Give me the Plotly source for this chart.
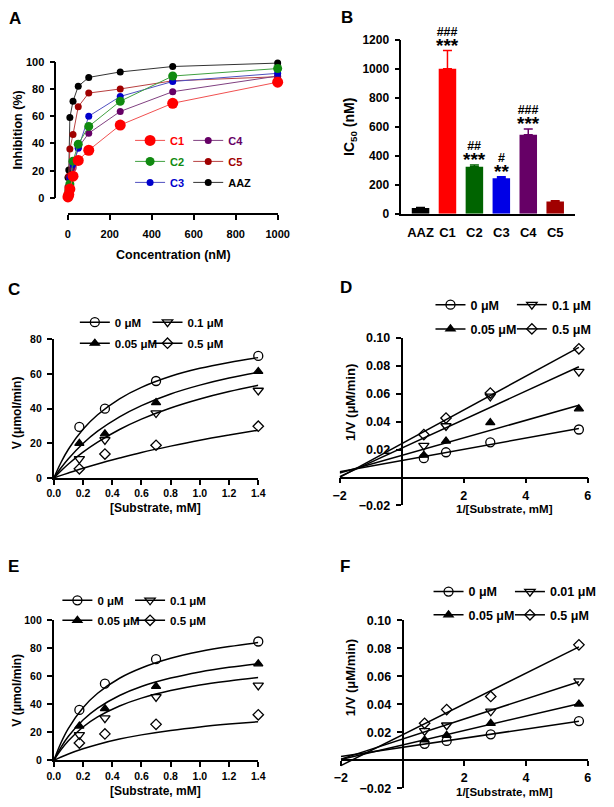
import numpy as np
import plotly.graph_objects as go

W, H = 614, 807
FONT = "Liberation Sans"

# ---------------- Panel A data ----------------
conc_nM = [1, 5, 10, 25, 50, 100, 250, 500, 1000]
inhib_C1 = [0.7, 2.5, 6.5, 16, 27.5, 35, 53.5, 69.5, 85]
inhib_C2 = [2, 5, 10.3, 27, 39.5, 52.5, 71, 89.5, 95]
inhib_C3 = [3, 8, 15, 24.5, 36.5, 60, 74.5, 85.5, 91.5]
inhib_C4 = [2, 7, 14, 22, 37, 47.5, 63.5, 78, 89.5]
inhib_C5 = [8, 16, 36, 46.5, 67, 77, 80, 86, 89]
inhib_AAZ = [15, 20.5, 59, 71, 82, 88.5, 92.5, 96.5, 99]

# ---------------- Panel B data ----------------
compounds = ["AAZ", "C1", "C2", "C3", "C4", "C5"]
ic50 = [40, 1000, 325, 245, 545, 85]
ic50_err = [4, 125, 12, 10, 40, 5]
sig_stars = ["", "***", "***", "**", "***", ""]
sig_hash = ["", "###", "##", "#", "###", ""]

# ---------------- Panels C-F data ----------------
substrate_mM = [0.175, 0.35, 0.7, 1.4]
inv_substrate = [0.714, 1.429, 2.857, 5.714]
fit_S = [0, 0.05, 0.1, 0.2, 0.3, 0.45, 0.6, 0.8, 1.0, 1.2, 1.4]

names_CDE = ["0 μM", "0.05 μM", "0.1 μM", "0.5 μM"]
names_F = ["0 μM", "0.05 μM", "0.01 μM", "0.5 μM"]

vC = [[29.5, 40, 56, 70.5],
      [20, 25.5, 43.5, 61.5],
      [11, 22, 37.5, 50.5],
      [5.3, 13.8, 18.9, 29.9]]
fitC = [[0, 9.1, 16.6, 28.1, 36.5, 45.7, 52.3, 58.7, 63.3, 66.7, 69.5],
        [0, 5.9, 11.1, 19.9, 27.0, 35.3, 41.8, 48.5, 53.6, 57.7, 61.0],
        [0, 4.2, 8.1, 14.9, 20.7, 28.0, 34.0, 40.4, 45.6, 49.9, 53.5],
        [0, 1.5, 2.9, 5.6, 8.1, 11.5, 14.7, 18.4, 21.8, 24.8, 27.6]]

invD = [[0.0139, 0.0181, 0.0252, 0.0344],
        [0.016, 0.0261, 0.0393, 0.0492],
        [0.0228, 0.0369, 0.0581, 0.0758],
        [0.0308, 0.0426, 0.0605, 0.0922]]

vE = [[36, 54.7, 72.2, 84.8],
      [24.5, 36.9, 52.8, 68.9],
      [18.2, 30.1, 45.3, 53.5],
      [12.4, 18.9, 25.7, 32.5]]
fitE = [[0, 12.8, 22.9, 37.6, 47.9, 58.6, 65.9, 72.8, 77.6, 81.2, 84.0],
        [0, 9.5, 17.2, 28.8, 37.3, 46.3, 52.7, 58.7, 63.1, 66.4, 69.0],
        [0, 7.7, 14.0, 23.8, 31.0, 38.8, 44.4, 49.8, 53.8, 56.7, 59.1],
        [0, 2.4, 4.6, 8.3, 11.4, 15.2, 18.2, 21.4, 23.9, 25.9, 27.6]]

invF = [[0.0117, 0.0138, 0.0185, 0.028],
        [0.0145, 0.0178, 0.0264, 0.0402],
        [0.021, 0.025, 0.035, 0.0565],
        [0.0264, 0.0362, 0.0456, 0.0825]]

# ---------------- helpers ----------------
def px_x(p):
    return p / W


def px_y(p):
    return 1 - p / H


def axis(dom, rng, size=11, **kw):
    d = dict(domain=dom, range=rng, showline=True, linecolor="black", linewidth=1.8,
             ticks="outside", ticklen=5, tickwidth=1.8, tickcolor="black",
             showgrid=False, zeroline=False, fixedrange=True,
             tickfont=dict(family=FONT, size=size, color="black", weight="bold"))
    d.update(kw)
    return d


def zero_pos(dom, rng):
    return dom[0] + (0 - rng[0]) / (rng[1] - rng[0]) * (dom[1] - dom[0])


fig = go.Figure()
annotations = []

# ---------------- Panel A ----------------
a_style = {
    "C1": ("#ff0000", "#f05050", 11, "legend"),
    "C2": ("#108a10", "#40a040", 9, "legend"),
    "C3": ("#0000cc", "#5050c0", 7, "legend"),
    "C4": ("#660066", "#804080", 7, "legend2"),
    "C5": ("#a00000", "#b84040", 7, "legend2"),
    "AAZ": ("#000000", "#333333", 7, "legend2"),
}
a_values = {"C1": inhib_C1, "C2": inhib_C2, "C3": inhib_C3,
            "C4": inhib_C4, "C5": inhib_C5, "AAZ": inhib_AAZ}
# drawing order (C1 on top)
for name in ["AAZ", "C5", "C4", "C3", "C2", "C1"]:
    col, lcol, ms, _ = a_style[name]
    fig.add_trace(go.Scatter(
        x=conc_nM, y=a_values[name], mode="lines+markers", xaxis="x", yaxis="y",
        line=dict(color=lcol, width=1), marker=dict(color=col, size=ms),
        cliponaxis=False, showlegend=False))
# legend entries
for name in ["C1", "C2", "C3", "C4", "C5", "AAZ"]:
    col, lcol, ms, leg = a_style[name]
    fig.add_trace(go.Scatter(
        x=[None], y=[None], mode="lines+markers", xaxis="x", yaxis="y",
        line=dict(color=lcol, width=1), marker=dict(color=col, size=ms),
        name=f"<span style='color:{col}'>{name}</span>",
        legend=leg, legendgroup=f"A_{name}"))

layout_axes = {}
layout_axes["xaxis"] = axis([px_x(62.7), px_x(279.3)], [0, 1000], 11, anchor="free",
                            position=px_y(211), tickvals=[0, 200, 400, 600, 800, 1000],
                            ticklabelstandoff=5)
layout_axes["yaxis"] = axis([px_y(194.3), px_y(55.7)], [0, 100], 11, anchor="free",
                            position=px_x(50), tickvals=[0, 20, 40, 60, 80, 100],
                            ticklabelstandoff=3)

# ---------------- Panel B ----------------
bar_colors = ["#000000", "#ff0000", "#006400", "#0000e6", "#660066", "#a00000"]
for i, c in enumerate(compounds):
    fig.add_trace(go.Bar(
        x=[c], y=[ic50[i]], xaxis="x2", yaxis="y2", width=0.65,
        marker=dict(color=bar_colors[i], line=dict(width=0)),
        error_y=dict(type="data", array=[ic50_err[i]], arrayminus=[0], symmetric=False,
                     color=bar_colors[i], thickness=1.5, width=4.5),
        showlegend=False))
    if sig_stars[i]:
        label = (f"{sig_hash[i]}<br><span style='font-size:19px'>{sig_stars[i]}</span>"
                 if sig_hash[i] else f"<span style='font-size:19px'>{sig_stars[i]}</span>")
        annotations.append(dict(x=c, y=ic50[i] + ic50_err[i], xref="x2", yref="y2",
                                text=label, showarrow=False, yanchor="bottom",
                                yshift=-6, borderpad=0,
                                font=dict(family=FONT, size=12.5, color="black", weight="bold")))

layout_axes["xaxis2"] = axis([px_x(407), px_x(586)], [-0.71, 5.73], 13, anchor="y2",
                             type="category", categoryorder="array", categoryarray=compounds,
                             ticks="", ticklabelstandoff=6)
layout_axes["yaxis2"] = axis([px_y(210.5), px_y(33.3)], [0, 1200], 12, anchor="x2",
                             tickvals=[0, 200, 400, 600, 800, 1000, 1200], ticklabelstandoff=3)

# ---------------- Panels C-F ----------------
symbols = [("circle-open", 9), ("triangle-up", 8), ("triangle-down-open", 9), ("diamond-open", 8)]


def kinetic(ax, xs, data, names, legs, fit_x=None, fits=None, linear=False, xmin=None):
    xa, ya = f"x{ax}", f"y{ax}"
    for i, ys in enumerate(data):
        if linear:
            coef = np.polyfit(xs, ys, 1)
            lx = [xmin, max(xs)]
            ly = list(np.polyval(coef, lx))
            fig.add_trace(go.Scatter(x=lx, y=ly, mode="lines", xaxis=xa, yaxis=ya,
                                     line=dict(color="black", width=1.5), showlegend=False))
        else:
            fig.add_trace(go.Scatter(x=fit_x, y=fits[i], mode="lines", xaxis=xa, yaxis=ya,
                                     line=dict(color="black", width=1.5, shape="spline"),
                                     showlegend=False))
    for i, ys in enumerate(data):
        sym, sz = symbols[i]
        mk = dict(symbol=sym, size=sz, color="black", line=dict(color="black", width=1.3))
        fig.add_trace(go.Scatter(x=xs, y=ys, mode="markers", xaxis=xa, yaxis=ya,
                                 marker=mk, cliponaxis=False, showlegend=False))
        leg = legs[0] if i in (0, 1) else legs[1]
        fig.add_trace(go.Scatter(x=[None], y=[None], mode="lines+markers", xaxis=xa, yaxis=ya,
                                 marker=mk, line=dict(color="black", width=1.5),
                                 name=names[i], legend=leg, legendgroup=f"{ax}_{i}"))


kinetic(3, substrate_mM, vC, names_CDE, ["legend3", "legend4"], fit_S, fitC)
kinetic(4, inv_substrate, invD, names_CDE, ["legend5", "legend6"], linear=True, xmin=-2)
kinetic(5, substrate_mM, vE, names_CDE, ["legend7", "legend8"], fit_S, fitE)
kinetic(6, inv_substrate, invF, names_F, ["legend9", "legend10"], linear=True, xmin=-2)

s_ticks = [0, 0.2, 0.4, 0.6, 0.8, 1.0, 1.2, 1.4]
layout_axes["xaxis3"] = axis([px_x(48.3), px_x(259.3)], [0, 1.4], 10.5, anchor="y3",
                             tickvals=s_ticks, tickformat=".1f", ticklabelstandoff=0)
layout_axes["yaxis3"] = axis([px_y(479.3), px_y(338.3)], [0, 80], 10.5, anchor="x3",
                             tickvals=[0, 20, 40, 60, 80], ticklabelstandoff=3)
layout_axes["xaxis5"] = axis([px_x(48.3), px_x(259.3)], [0, 1.4], 10.5, anchor="y5",
                             tickvals=s_ticks, tickformat=".1f", ticklabelstandoff=0)
layout_axes["yaxis5"] = axis([px_y(766.7), px_y(624)], [0, 100], 10.5, anchor="x5",
                             tickvals=[0, 20, 40, 60, 80, 100], ticklabelstandoff=3)

lb_xt = [-2, 2, 4, 6]
lb_yt = [-0.02, 0.02, 0.04, 0.06, 0.08, 0.10]
for ax, dx, dy, so in [(4, [343.3, 599.3], [507.3, 336.7], 2), (6, [344.5, 599.3], [795, 624.2], 1)]:
    domx = [px_x(dx[0]), px_x(dx[1])]
    domy = [px_y(dy[0]), px_y(dy[1])]
    xr, yr = [-2, 6], [-0.02, 0.10]
    layout_axes[f"xaxis{ax}"] = axis(domx, xr, 12.5, anchor="free", position=zero_pos(domy, yr),
                                     tickvals=lb_xt, tickformat="d", ticklabelstandoff=so)
    layout_axes[f"yaxis{ax}"] = axis(domy, yr, 12.5, anchor="free", position=zero_pos(domx, xr),
                                     tickvals=lb_yt, tickformat=".2f", ticklabelstandoff=3)

# ---------------- legends ----------------
def leg(xp, ytop, size, gap):
    return dict(x=px_x(xp), y=px_y(ytop), xanchor="left", yanchor="top",
                bgcolor="rgba(0,0,0,0)", borderwidth=0, tracegroupgap=gap,
                traceorder="grouped", itemclick=False, itemdoubleclick=False,
                font=dict(family=FONT, size=size, color="black", weight="bold"))

legends = {
    "legend": leg(127, 121, 11, 2), "legend2": leg(187, 121, 11, 2),
    "legend3": leg(70, 306, 11.5, 2), "legend4": leg(145, 306, 11.5, 2),
    "legend5": leg(437, 288, 12.5, 5), "legend6": leg(521, 288, 12.5, 5),
    "legend7": leg(52, 589, 11.5, 1), "legend8": leg(127, 589, 11.5, 1),
    "legend9": leg(435, 580, 12.5, 4), "legend10": leg(519, 580, 12.5, 4),
}

# ---------------- text annotations ----------------
def txt(x, y, s, size, angle=0):
    annotations.append(dict(x=px_x(x), y=px_y(y), xref="paper", yref="paper", text=s,
                            showarrow=False, xanchor="center", yanchor="middle", textangle=angle,
                            font=dict(family=FONT, size=size, color="black", weight="bold")))

for letter, x, y in [("A", 8, 12), ("B", 351, 11), ("C", 7, 287), ("D", 350, 285),
                     ("E", 7, 569), ("F", 349, 569)]:
    txt(x, y, letter, 17)

txt(11, 125, "Inhibition (%)", 12.5, -90)
txt(172, 252, "Concentration (nM)", 12.5)
txt(354, 122, "IC<sub>50</sub> (nM)", 14, -90)
txt(10, 412.7, "V (μmol/min)", 12, -90)
txt(153, 510, "[Substrate, mM]", 12)
txt(354, 403, "1/V (μM/min)", 13, -90)
txt(513, 511, "1/[Substrate, mM]", 11.5)
txt(10, 695, "V (μmol/min)", 12, -90)
txt(153, 797.5, "[Substrate, mM]", 12)
txt(354, 683, "1/V (μM/min)", 13, -90)
txt(513, 798.5, "1/[Substrate, mM]", 11.5)

fig.update_layout(width=W, height=H, margin=dict(l=0, r=0, t=0, b=0),
                  paper_bgcolor="white", plot_bgcolor="white", barmode="overlay",
                  showlegend=True, annotations=annotations, **layout_axes, **legends)

fig.write_html("out.html", config={"displayModeBar": False},
               post_script="document.body.style.margin='0px';")
